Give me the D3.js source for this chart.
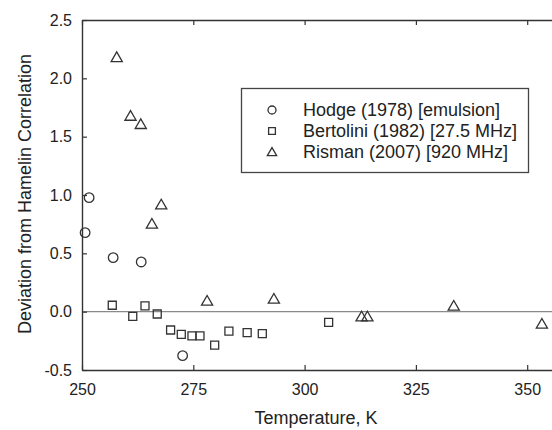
<!DOCTYPE html>
<html><head><meta charset="utf-8">
<script src="https://cdn.jsdelivr.net/npm/d3@7"></script>
<style>
html,body{margin:0;padding:0;background:#fff;overflow:hidden}
text{font-family:Arial,"Liberation Sans",sans-serif;fill:#222}
</style></head>
<body>
<svg id="chart" width="552" height="430"></svg>
<script>
// Hodge (1978) [emulsion]
const hodgeT = [250.7, 251.6, 257.0, 263.3, 272.6];
const hodgeD = [0.677, 0.977, 0.463, 0.426, -0.377];
// Bertolini (1982) [27.5 MHz]
const bertT = [256.8, 261.4, 264.15, 266.9, 269.9, 272.3, 274.7, 276.5, 279.8, 283.0, 287.1, 290.5, 305.4];
const bertD = [0.055, -0.04, 0.049, -0.02, -0.157, -0.195, -0.207, -0.207, -0.287, -0.167, -0.18, -0.188, -0.091];
// Risman (2007) [920 MHz]
const risT = [257.8, 260.9, 263.2, 265.7, 267.8, 278.1, 293.1, 312.8, 314.1, 333.5, 353.3];
const risD = [2.18, 1.677, 1.606, 0.752, 0.917, 0.092, 0.109, -0.043, -0.043, 0.049, -0.105];

const xTicks = [250, 275, 300, 325, 350];
const yTicks = [-0.5, 0.0, 0.5, 1.0, 1.5, 2.0, 2.5];
const seriesNames = ["Hodge (1978) [emulsion]", "Bertolini (1982) [27.5 MHz]", "Risman (2007) [920 MHz]"];
const xTitle = "Temperature, K";
const yTitle = "Deviation from Hamelin Correlation";

const svg = d3.select("#chart");
const L = 82, T = 20, B = 370;
const pxPer = 111.3 / 25;
const x = d3.scaleLinear().domain([250, 360]).range([L, L + 110 * pxPer]);
const y = d3.scaleLinear().domain([-0.5, 2.5]).range([B, T]);
const axisColor = "#333";

// zero line
svg.append("line").attr("x1", x(250)).attr("x2", 552).attr("y1", y(0)).attr("y2", y(0))
  .attr("stroke", "#8a8a8a").attr("stroke-width", 1.3);

// bottom axis
const gx = svg.append("g").attr("transform", `translate(0,${B})`)
  .call(d3.axisBottom(x).tickValues(xTicks).tickSize(-5).tickSizeOuter(0).tickPadding(14).tickFormat(d => String(d)));
// top axis
const gt = svg.append("g").attr("transform", `translate(0,${T})`)
  .call(d3.axisTop(x).tickValues(xTicks).tickSize(-5).tickSizeOuter(0).tickFormat(""));
// left axis
const gy = svg.append("g").attr("transform", `translate(${L},0)`)
  .call(d3.axisLeft(y).tickValues(yTicks).tickSize(-5).tickSizeOuter(0).tickPadding(10).tickFormat(d => d.toFixed(1)));

[gx, gt, gy].forEach(g => {
  g.select(".domain").attr("stroke", axisColor).attr("stroke-width", 1.4);
  g.selectAll(".tick line").attr("stroke", axisColor).attr("stroke-width", 1.2);
  g.selectAll(".tick text").attr("font-size", 16).attr("font-family", "Arial, 'Liberation Sans', sans-serif").attr("fill", "#222");
});

// axis titles
svg.append("text").attr("x", 316).attr("y", 424).attr("text-anchor", "middle")
  .attr("font-size", 18).text(xTitle);
svg.append("text").attr("transform", "translate(31,194) rotate(-90)").attr("text-anchor", "middle")
  .attr("font-size", 18).text(yTitle);

// markers
const symCircle = d3.symbol().type(d3.symbolCircle).size(72);
const symSquare = d3.symbol().type(d3.symbolSquare).size(64);
const symTri = d3.symbol().type(d3.symbolTriangle).size(54);
const mk = (sel) => sel.attr("fill", "none").attr("stroke", "#333").attr("stroke-width", 1.3);

function plot(ts, ds, sym, dy) {
  svg.append("g").selectAll("path").data(ts.map((t, i) => [t, ds[i]])).join("path")
    .attr("d", sym)
    .attr("transform", d => `translate(${x(d[0])},${y(d[1]) + (dy || 0)})`)
    .call(mk);
}
plot(hodgeT, hodgeD, symCircle);
plot(bertT, bertD, symSquare);
plot(risT, risD, symTri, 1);

// legend
const lg = svg.append("g");
lg.append("rect").attr("x", 241.5).attr("y", 88.5).attr("width", 287).attr("height", 84)
  .attr("fill", "#fff").attr("stroke", "#444").attr("stroke-width", 1.3);
const legSyms = [d3.symbol().type(d3.symbolCircle).size(50), d3.symbol().type(d3.symbolSquare).size(46), d3.symbol().type(d3.symbolTriangle).size(38)];
const rowsY = [110, 131, 152];
seriesNames.forEach((name, i) => {
  lg.append("path").attr("d", legSyms[i]()).attr("transform", `translate(272,${rowsY[i] + (i === 2 ? 1 : 0)})`).call(mk);
  lg.append("text").attr("x", 303).attr("y", rowsY[i]).attr("dy", "0.35em").attr("font-size", 18).text(name);
});
</script>
</body></html>
